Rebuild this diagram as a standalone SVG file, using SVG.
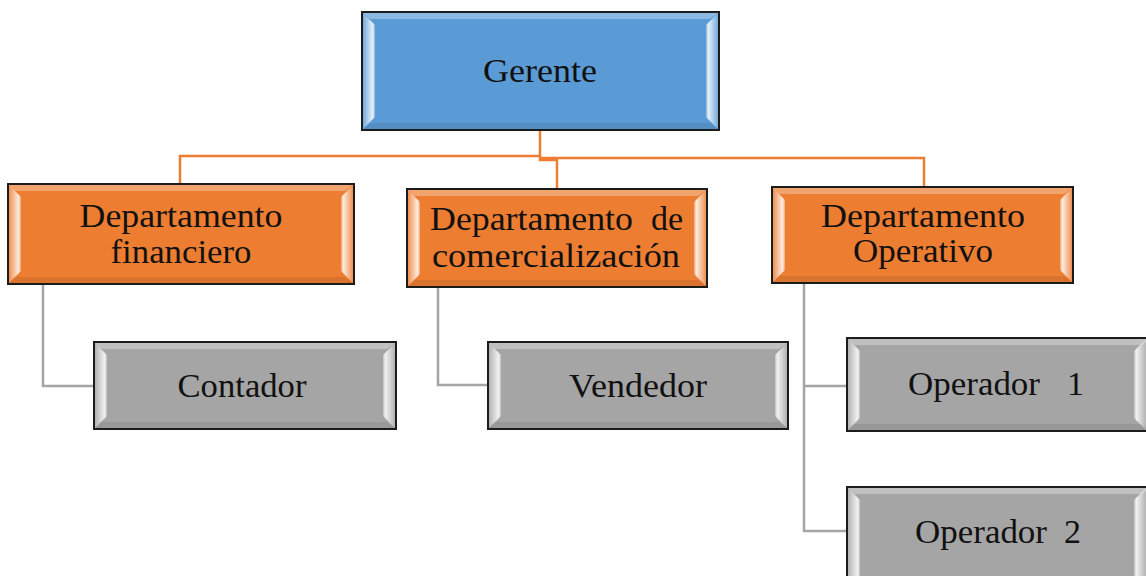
<svg xmlns="http://www.w3.org/2000/svg" width="1146" height="576" viewBox="0 0 1146 576">
<defs>
<linearGradient id="bl" x1="0" y1="0" x2="1" y2="0"><stop offset="0" stop-color="#fff" stop-opacity="0.15"/><stop offset="0.8" stop-color="#fff" stop-opacity="0.85"/><stop offset="1" stop-color="#fff" stop-opacity="0.3"/></linearGradient>
<linearGradient id="br" x1="1" y1="0" x2="0" y2="0"><stop offset="0" stop-color="#fff" stop-opacity="0.15"/><stop offset="0.8" stop-color="#fff" stop-opacity="0.85"/><stop offset="1" stop-color="#fff" stop-opacity="0.3"/></linearGradient>
</defs>
<style>
.box{stroke:#1c1c1c;stroke-width:2}
.blue{fill:#5B9BD5}.orange{fill:#ED7D31}.gray{fill:#A5A5A5}
.bt{fill:#fff;fill-opacity:0.3}
.bb{fill:#000;fill-opacity:0.08}
.bl{fill:url(#bl)}.br{fill:url(#br)}
text{font-family:"Liberation Serif","Times New Roman",serif;font-size:34px;fill:#111}
.oc{fill:none;stroke:#ED7D31;stroke-width:2.5}
.gc{fill:none;stroke:#A5A5A5;stroke-width:2.5}
</style>
<g id="connectors">
<path class="oc" d="M540,130 V156 H180 V184"/>
<path class="oc" d="M540,156 V160 H557 V189"/>
<path class="oc" d="M540,158 H924 V187"/>
<path class="gc" d="M43,284 V386 H94"/>
<path class="gc" d="M438,287 V385 H488"/>
<path class="gc" d="M804,283 V531 H847"/>
<path class="gc" d="M804,386 H847"/>
</g>
<g id="gerente">
<rect class="box blue" x="362" y="12" width="357" height="118"/>
<polygon class="bt" points="363,13 718,13 710,19 370,19"/>
<polygon class="bb" points="363,129 718,129 710,123 370,123"/>
<polygon class="bl" points="363,13 375,25 375,117 363,129"/>
<polygon class="br" points="718,13 706,25 706,117 718,129"/>
<text x="540" y="82" text-anchor="middle" textLength="114" lengthAdjust="spacingAndGlyphs">Gerente</text>
</g>
<g id="dept-financiero">
<rect class="box orange" x="8" y="184" width="346" height="100"/>
<polygon class="bt" points="9,185 353,185 345,191 15,191"/>
<polygon class="bb" points="9,283 353,283 345,277 15,277"/>
<polygon class="bl" points="9,185 21,197 21,271 9,283"/>
<polygon class="br" points="353,185 341,197 341,271 353,283"/>
<text x="181" y="227" text-anchor="middle" textLength="203" lengthAdjust="spacingAndGlyphs">Departamento</text>
<text x="181" y="263" text-anchor="middle" textLength="141" lengthAdjust="spacingAndGlyphs">financiero</text>
</g>
<g id="dept-comercializacion">
<rect class="box orange" x="407" y="189" width="300" height="98"/>
<polygon class="bt" points="408,190 706,190 698,196 414,196"/>
<polygon class="bb" points="408,286 706,286 698,280 414,280"/>
<polygon class="bl" points="408,190 420,202 420,274 408,286"/>
<polygon class="br" points="706,190 694,202 694,274 706,286"/>
<text x="430" y="230" textLength="203" lengthAdjust="spacingAndGlyphs">Departamento</text>
<text x="683" y="230" text-anchor="end">de</text>
<text x="432" y="267" textLength="248" lengthAdjust="spacingAndGlyphs">comercialización</text>
</g>
<g id="dept-operativo">
<rect class="box orange" x="772" y="187" width="301" height="96"/>
<polygon class="bt" points="773,188 1072,188 1064,194 779,194"/>
<polygon class="bb" points="773,282 1072,282 1064,276 779,276"/>
<polygon class="bl" points="773,188 785,200 785,270 773,282"/>
<polygon class="br" points="1072,188 1060,200 1060,270 1072,282"/>
<text x="923" y="227" text-anchor="middle" textLength="204" lengthAdjust="spacingAndGlyphs">Departamento</text>
<text x="923" y="262" text-anchor="middle" textLength="140" lengthAdjust="spacingAndGlyphs">Operativo</text>
</g>
<g id="contador">
<rect class="box gray" x="94" y="342" width="302" height="87"/>
<polygon class="bt" points="95,343 395,343 387,349 101,349"/>
<polygon class="bb" points="95,428 395,428 387,422 101,422"/>
<polygon class="bl" points="95,343 107,355 107,416 95,428"/>
<polygon class="br" points="395,343 383,355 383,416 395,428"/>
<text x="242" y="397" text-anchor="middle" textLength="129" lengthAdjust="spacingAndGlyphs">Contador</text>
</g>
<g id="vendedor">
<rect class="box gray" x="488" y="342" width="300" height="87"/>
<polygon class="bt" points="489,343 787,343 779,349 495,349"/>
<polygon class="bb" points="489,428 787,428 779,422 495,422"/>
<polygon class="bl" points="489,343 501,355 501,416 489,428"/>
<polygon class="br" points="787,343 775,355 775,416 787,428"/>
<text x="638" y="397" text-anchor="middle" textLength="138" lengthAdjust="spacingAndGlyphs">Vendedor</text>
</g>
<g id="operador1">
<rect class="box gray" x="847" y="338" width="304" height="93"/>
<polygon class="bt" points="848,339 1150,339 1142,345 854,345"/>
<polygon class="bb" points="848,430 1150,430 1142,424 854,424"/>
<polygon class="bl" points="848,339 860,351 860,418 848,430"/>
<polygon class="br" points="1146,339 1134,351 1134,418 1146,430"/>
<text x="908" y="395" textLength="132" lengthAdjust="spacingAndGlyphs">Operador</text>
<text x="1084" y="395" text-anchor="end">1</text>
</g>
<g id="operador2">
<rect class="box gray" x="847" y="487" width="304" height="100"/>
<polygon class="bt" points="848,488 1150,488 1142,494 854,494"/>
<polygon class="bl" points="848,488 860,500 860,586 848,586"/>
<polygon class="br" points="1146,488 1134,500 1134,586 1146,586"/>
<text x="915" y="543" textLength="132" lengthAdjust="spacingAndGlyphs">Operador</text>
<text x="1081" y="543" text-anchor="end">2</text>
</g>
</svg>
